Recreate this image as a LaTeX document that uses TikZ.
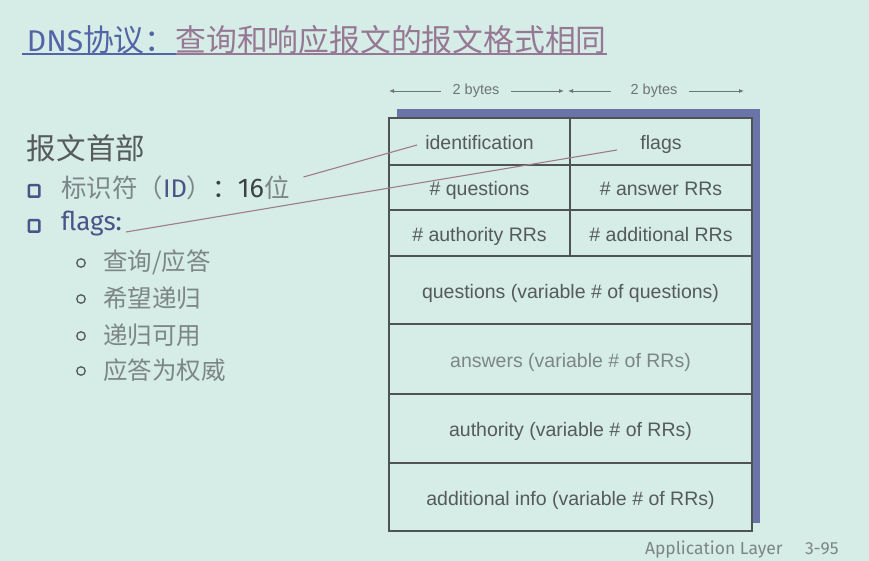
\documentclass[tikz,border=0pt]{standalone}
\usepackage{fontspec}
\setmainfont{Liberation Sans}
\newfontfamily\cjk{Noto Sans CJK SC}
\newfontfamily\rounded{Fira Sans}
\usetikzlibrary{arrows.meta,calc}
\definecolor{slidebg}{HTML}{D6ECE6}
\definecolor{titleblue}{HTML}{5265A6}
\definecolor{titlemauve}{HTML}{967894}
\definecolor{inkgrey}{HTML}{555A5A}
\definecolor{palegrey}{HTML}{7D8686}
\definecolor{darkgrey}{HTML}{3C4242}
\definecolor{bulletblue}{HTML}{4A5488}
\definecolor{shadowblue}{HTML}{6A74A8}
\definecolor{leader}{HTML}{A07C88}
\definecolor{rulegrey}{HTML}{4E5454}
\definecolor{dimgrey}{HTML}{6E7575}

\begin{document}
\begin{tikzpicture}[x=1pt,y=-1pt,
  every node/.style={inner sep=0pt,outer sep=0pt},
  cell/.style={draw=rulegrey,line width=1.3pt,anchor=north west,text=inkgrey,
    font=\fontsize{19.5}{22}\selectfont},
  celltext/.style={text height=16pt,text depth=0pt},
  dimlabel/.style={text=dimgrey,font=\fontsize{14.5}{16}\selectfont},
  dimline/.style={draw=dimgrey,line width=0.8pt,-{Latex[length=5pt,width=4pt]}},
  sqbullet/.style={draw=bulletblue,line width=2.5pt,rounded corners=0.8pt,
    minimum width=10.5pt,minimum height=11.5pt},
  circbullet/.style={circle,draw=inkgrey,line width=1.3pt,minimum size=8.5pt},
  itemtext/.style={anchor=west,text=palegrey,font=\cjk\fontsize{24.5}{27}\selectfont},
  leaderline/.style={draw=leader,line width=1.1pt},
]
% slide background
\fill[slidebg] (0,0) rectangle (869,561);
\useasboundingbox (0,0) rectangle (869,561);

% heading with underline
\node[anchor=base west,text=titleblue,font=\fontsize{30}{34}\selectfont] (title1) at (27,52)
  {\rounded DNS\cjk\fontsize{30.8}{34}\selectfont 协议：};
\node[anchor=base west,text=titlemauve,font=\cjk\fontsize{30.8}{34}\selectfont] (title2)
  at (title1.base east) {查询和响应报文的报文格式相同};
\draw[titleblue,line width=1.1pt] ($(title1.base west)+(-5,2)$) -- ($(title1.base east)+(0,2)$);
\draw[titlemauve,line width=1.1pt] ($(title2.base west)+(0,2)$) -- ($(title2.base east)+(0,2)$);

% left column: header fields
\node[anchor=west,text=inkgrey,font=\cjk\fontsize{29.5}{32}\selectfont] (hdr) at (27,148) {报文首部};

\node[sqbullet] (b1) at (34,191) {};
\node[anchor=west,font=\fontsize{25.5}{28}\selectfont] (idtxt) at (61,188)
  {\cjk\color{palegrey}标识符（\rounded\color{bulletblue}ID\cjk\color{palegrey}）\color{darkgrey}：\rounded\fontsize{27}{28}\selectfont 16\cjk\color{palegrey}\fontsize{25.5}{28}\selectfont 位};

\node[sqbullet] (b2) at (34,226) {};
\node[anchor=west,text=bulletblue,font=\rounded\fontsize{26}{28}\selectfont] (flagtxt) at (61,224) {flags:};

\node[circbullet] (c1) at (81,263) {};
\node[itemtext] (s1) at (103,262) {查询/应答};
\node[circbullet] (c2) at (81,299) {};
\node[itemtext] (s2) at (103,298) {希望递归};
\node[circbullet] (c3) at (81,336) {};
\node[itemtext] (s3) at (103,335) {递归可用};
\node[circbullet] (c4) at (81,371) {};
\node[itemtext] (s4) at (103,370) {应答为权威};

% field width markers
\node[dimlabel] (by1) at (476,91) {2 bytes};
\node[dimlabel] (by2) at (654,91) {2 bytes};
\coordinate (mkl) at (389,91);
\coordinate (mkm) at (566,91);
\coordinate (mkr) at (744,91);
\draw[dimline] ([xshift=-12pt]by1.west) -- (mkl);
\draw[dimline] ([xshift=12pt]by1.east) -- ([xshift=-2pt]mkm);
\draw[dimline] ([xshift=-20pt]by2.west) -- ([xshift=2pt]mkm);
\draw[dimline] ([xshift=12pt]by2.east) -- (mkr);

% drop shadow of the message layout
\fill[shadowblue] (397,109) rectangle (760,523);
\fill[slidebg] (389,118) rectangle (752,531);

% message layout
\node[cell,celltext,minimum width=181pt,minimum height=47pt] (ident) at (389,118) {identification};
\node[cell,celltext,minimum width=182pt,minimum height=47pt] (flags) at (570,118) {flags};
\node[cell,celltext,minimum width=181pt,minimum height=45pt] (nq) at (389,165) {\# questions};
\node[cell,celltext,minimum width=182pt,minimum height=45pt] (nans) at (570,165) {\# answer RRs};
\node[cell,celltext,minimum width=181pt,minimum height=46pt] (nauth) at (389,210) {\# authority RRs};
\node[cell,celltext,minimum width=182pt,minimum height=46pt] (nadd) at (570,210) {\# additional RRs};
\node[cell,celltext,minimum width=363pt,minimum height=68pt] (qs) at (389,256) {questions (variable \# of questions)};
\node[cell,celltext,minimum width=363pt,minimum height=70pt,text=palegrey] (ans) at (389,324) {answers (variable \# of RRs)};
\node[cell,celltext,minimum width=363pt,minimum height=69pt] (auth) at (389,394) {authority (variable \# of RRs)};
\node[cell,celltext,minimum width=363pt,minimum height=68pt] (addl) at (389,463) {additional info (variable \# of RRs)};

% leader lines from the field names to the layout
\coordinate (idfrom) at ([xshift=14pt,yshift=11pt]idtxt.east);
\coordinate (idto) at ([xshift=28pt,yshift=-3.5pt]ident.west);
\draw[leaderline] (idfrom) -- (idto);
\coordinate (flfrom) at ([xshift=4pt,yshift=-8pt]flagtxt.east);
\coordinate (flto) at ([xshift=-44pt,yshift=-8.5pt]flags.center);
\draw[leaderline] (flfrom) -- (flto);

% footer
\node[anchor=base west,text=palegrey,font=\rounded\fontsize{17.5}{19}\selectfont] (foot) at (645,554) {Application Layer};
\node[anchor=base west,text=palegrey,font=\rounded\fontsize{17.5}{19}\selectfont] (page) at (805,554) {3-95};
\end{tikzpicture}
\end{document}
